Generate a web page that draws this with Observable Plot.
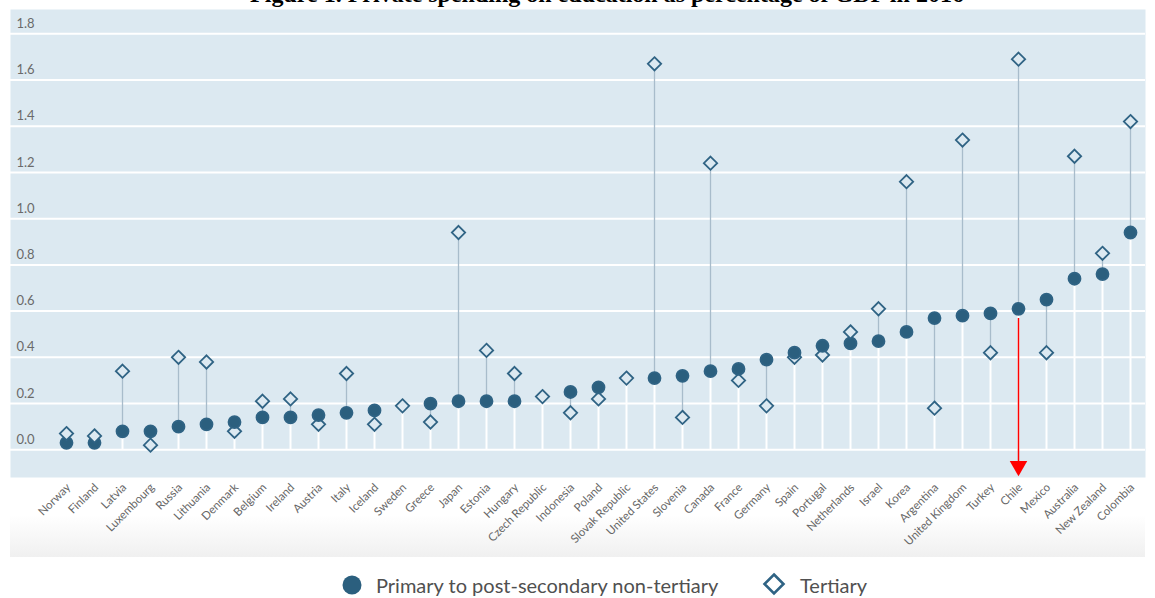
<!DOCTYPE html>
<html>
<head>
<meta charset="utf-8">
<script src="https://cdn.jsdelivr.net/npm/d3@7"></script>
<script src="https://cdn.jsdelivr.net/npm/@observablehq/plot@0.6"></script>
<style>
  body { margin: 0; background: #fff; width: 1155px; height: 598px; overflow: hidden; position: relative; font-family: Lato, "Open Sans", sans-serif; }
  #title { position: absolute; left: 0; width: 1214px; top: -18px; text-align: center; font: bold 24px/24px "Liberation Serif", "Times New Roman", serif; color: #000; white-space: nowrap; }
  #fade { position: absolute; left: 10px; width: 1135px; top: 515px; height: 42px; background: linear-gradient(#ffffff, #f0f0f0); }
  #chart { position: absolute; left: 0; top: 9px; }
  .leg { position: absolute; top: 572px; height: 26px; display: flex; align-items: center; font-size: 20px; color: #505050; font-family: Lato, sans-serif; }
  .leg svg { margin-right: 12px; }
</style>
</head>
<body>
<div id="title">Figure 1. Private spending on education as percentage of GDP in 2016</div>
<div id="fade"></div>
<div id="chart"></div>
<div class="leg" style="left:342px"><svg width="22" height="22"><circle cx="10" cy="11" r="9.5" fill="#2b5f7e"/></svg>Primary to post-secondary non-tertiary</div>
<div class="leg" style="left:762px"><svg width="26" height="26"><path d="M12,2.5 L21.5,12 L12,21.5 L2.5,12 Z" fill="none" stroke="#2f6384" stroke-width="2.6"/></svg>Tertiary</div>
<script>
const countries = ["Norway","Finland","Latvia","Luxembourg","Russia","Lithuania","Denmark","Belgium","Ireland","Austria","Italy","Iceland","Sweden","Greece","Japan","Estonia","Hungary","Czech Republic","Indonesia","Poland","Slovak Republic","United States","Slovenia","Canada","France","Germany","Spain","Portugal","Netherlands","Israel","Korea","Argentina","United Kingdom","Turkey","Chile","Mexico","Australia","New Zealand","Colombia"];
const primary = [0.03,0.03,0.08,0.08,0.10,0.11,0.12,0.14,0.14,0.15,0.16,0.17,null,0.20,0.21,0.21,0.21,null,0.25,0.27,null,0.31,0.32,0.34,0.35,0.39,0.42,0.45,0.46,0.47,0.51,0.57,0.58,0.59,0.61,0.65,0.74,0.76,0.94];
const tertiary = [0.07,0.06,0.34,0.02,0.40,0.38,0.08,0.21,0.22,0.11,0.33,0.11,0.19,0.12,0.94,0.43,0.33,0.23,0.16,0.22,0.31,1.67,0.14,1.24,0.30,0.19,0.40,0.41,0.51,0.61,1.16,0.18,1.34,0.42,1.69,0.42,1.27,0.85,1.42];
const yTicks = [0,0.2,0.4,0.6,0.8,1.0,1.2,1.4,1.6,1.8];
const seriesNames = ["Primary to post-secondary non-tertiary","Tertiary"];
const highlighted = "Chile";
const arrowFrom = 0.568;
const arrowTo = -0.075;
const arrowHead = -0.071;

const rows = countries.map((c, i) => {
  const vals = [primary[i], tertiary[i]].filter(v => v != null);
  return {country: c, lo: d3.min(vals), hi: d3.max(vals), both: vals.length === 2};
});
const points = [];
countries.forEach((c, i) => {
  if (primary[i] != null) points.push({country: c, value: primary[i], series: seriesNames[0]});
  if (tertiary[i] != null) points.push({country: c, value: tertiary[i], series: seriesNames[1]});
});
points.sort((a, b) => a.value - b.value);

const chart = Plot.plot({
  width: 1155,
  height: 553,
  marginLeft: 10,
  marginRight: 10,
  marginTop: 0,
  marginBottom: 85,
  style: {fontFamily: "Lato, sans-serif", background: "transparent", overflow: "visible"},
  x: {type: "point", domain: countries, padding: 0, insetLeft: 49, insetRight: 8, label: null},
  y: {domain: [-0.12, 1.905], label: null},
  marks: [
    Plot.frame({fill: "#dce9f1", stroke: "none"}),
    Plot.gridY(yTicks, {stroke: "#ffffff", strokeOpacity: 1, strokeWidth: 2}),
    Plot.axisY({ticks: yTicks, tickSize: 0, tickPadding: 0, textAnchor: "start", dx: 6, dy: -10, tickFormat: d3.format(".1f"), fontSize: 13, color: "#6a6a6a", label: null}),
    Plot.axisX({tickRotate: -45, tickSize: 0, tickPadding: 8, dx: 2, fontSize: 11.5, color: "#666666", label: null}),
    Plot.ruleX(rows, {x: "country", y1: 0, y2: "lo", stroke: "#ffffff", strokeWidth: 2}),
    Plot.ruleX(rows.filter(d => d.both), {x: "country", y1: "lo", y2: "hi", stroke: "#a8bccb", strokeWidth: 1.3}),
    Plot.dot(points, {
      x: "country", y: "value",
      symbol: d => d.series === seriesNames[0] ? "circle" : "diamond2",
      fill: d => d.series === seriesNames[0] ? "#2b5f7e" : "#dce9f1",
      stroke: "#2f6384", strokeWidth: 1.8, r: 6
    }),
    Plot.ruleX([highlighted], {x: d => d, y1: arrowFrom, y2: arrowTo, stroke: "#ff0000", strokeWidth: 1.5}),
    Plot.dot([highlighted], {x: d => d, y: arrowHead, symbol: "triangle", rotate: 180, fill: "#ff0000", stroke: "none", r: 6.5})
  ]
});
document.getElementById("chart").appendChild(chart);
</script>
</body>
</html>
